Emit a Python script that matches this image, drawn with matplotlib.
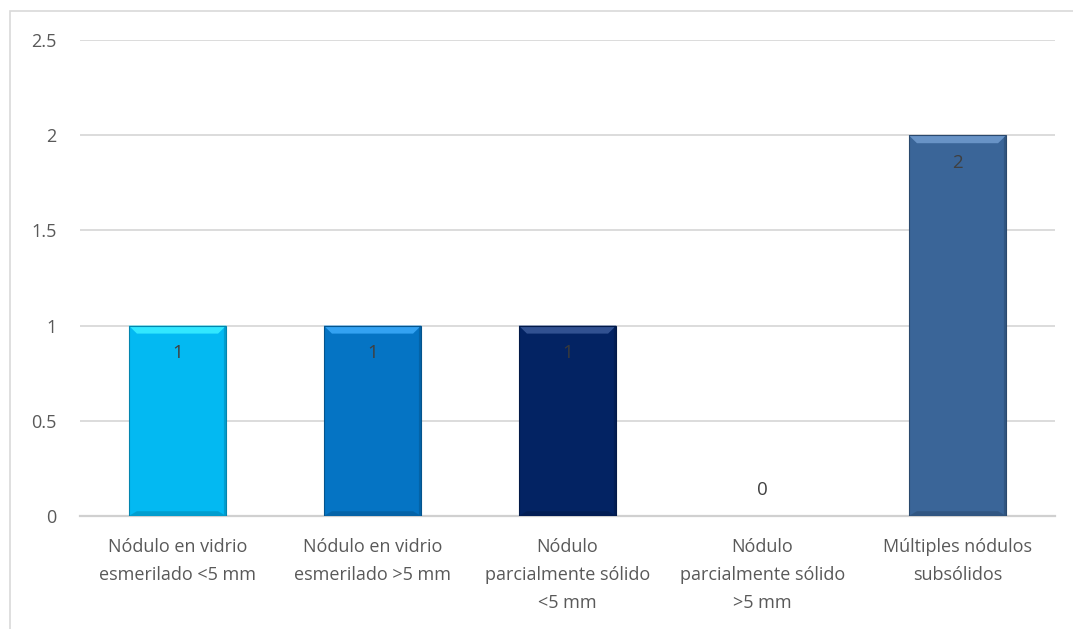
import matplotlib.pyplot as plt
import matplotlib.patheffects as pe
from matplotlib.patches import Polygon, Rectangle
from matplotlib.colors import to_rgb

plt.rcParams['font.family'] = ['Open Sans', 'DejaVu Sans']

categories = [
    "Nódulo en vidrio\nesmerilado <5 mm",
    "Nódulo en vidrio\nesmerilado >5 mm",
    "Nódulo\nparcialmente sólido\n<5 mm",
    "Nódulo\nparcialmente sólido\n>5 mm",
    "Múltiples nódulos\nsubsólidos",
]
values = [1, 1, 1, 0, 2]
colors = ["#03B9F2", "#0574C4", "#032363", "#8FA9C9", "#3A6598"]
label_colors = ["#404040", "#404040", "#3a3a3a", "#404040", "#404040"]

fig = plt.figure(figsize=(10.73, 6.29), dpi=100)
ax = fig.add_axes([80 / 1073, 1 - 516 / 629, 975 / 1073, 476 / 629])

# outer chart border
fig.add_artist(Rectangle((10 / 1073, -0.1), 1.2, 1 - 11 / 629 + 0.1,
                         transform=fig.transFigure, fill=False,
                         edgecolor="#D9D9D9", linewidth=1.2))

x = list(range(len(values)))
bars = ax.bar(x, values, width=0.5, color=colors, edgecolor="none", zorder=3)

# soft drop shadow and beveled edges on each bar
bx, by = 0.042, 0.042
for bar, c in zip(bars, colors):
    h = bar.get_height()
    if h <= 0:
        continue
    bar.set_path_effects([pe.SimplePatchShadow(offset=(0, -2), shadow_rgbFace="#000000", alpha=0.18),
                          pe.Normal()])
    x0, w = bar.get_x(), bar.get_width()
    x1 = x0 + w
    r, g, b = to_rgb(c)
    light = (min(1, r + 0.18), min(1, g + 0.18), min(1, b + 0.18))
    dark = (r * 0.72, g * 0.72, b * 0.72)
    mid = (r * 0.85, g * 0.85, b * 0.85)
    ax.add_patch(Polygon([(x0, h), (x1, h), (x1 - bx, h - by), (x0 + bx, h - by)],
                         closed=True, facecolor=light, edgecolor="none", zorder=4))
    ax.add_patch(Polygon([(x0, 0), (x1, 0), (x1 - bx, by * 0.6), (x0 + bx, by * 0.6)],
                         closed=True, facecolor=dark, edgecolor="none", zorder=4, alpha=0.5))
    ax.add_patch(Polygon([(x1, 0), (x1, h), (x1 - 0.012, h - 0.012), (x1 - 0.012, 0)],
                         closed=True, facecolor=mid, edgecolor="none", zorder=4))
    ax.add_patch(Rectangle((x0, 0), w, h, fill=False, edgecolor=dark, linewidth=0.8, zorder=5))

for xi, v, lc in zip(x, values, label_colors):
    dy = -20 if v > 0 else 19
    ax.annotate(str(v), (xi, v), xytext=(0, dy), textcoords="offset points",
                ha="center", va="center", fontsize=13.5, color=lc, zorder=6)

ax.set_xlim(-0.5, len(values) - 0.5)
ax.set_ylim(0, 2.5)
ax.set_yticks([0, 0.5, 1, 1.5, 2, 2.5])
ax.set_yticklabels(["0", "0.5", "1", "1.5", "2", "2.5"])
ax.set_xticks(x)
ax.set_xticklabels(categories, linespacing=1.72)
ax.tick_params(axis="both", length=0, labelsize=13, colors="#595959")
ax.tick_params(axis="y", pad=17)
ax.tick_params(axis="x", pad=16)
ax.grid(axis="y", color="#D9D9D9", linewidth=1.3, zorder=0)
ax.set_axisbelow(True)
for s in ["top", "right", "left"]:
    ax.spines[s].set_visible(False)
ax.spines["bottom"].set_color("#D0D0D0")
ax.spines["bottom"].set_linewidth(1.6)

fig.savefig("out.png", dpi=100)
